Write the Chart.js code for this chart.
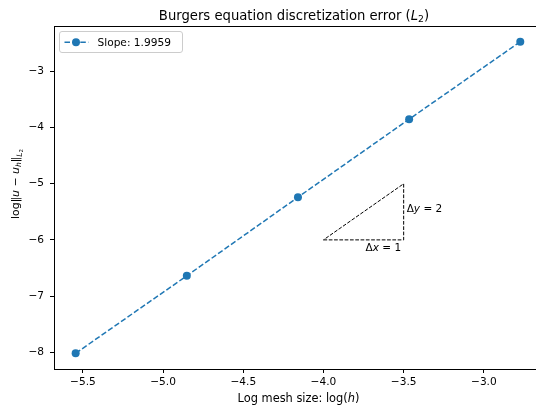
<!DOCTYPE html>
<html>
<head>
<meta charset="utf-8">
<script src="https://cdn.jsdelivr.net/npm/chart.js@4"></script>
<style>
  html, body { margin: 0; padding: 0; background: #fff; }
  #wrap { width: 536px; height: 409px; }
</style>
</head>
<body>
<div id="wrap"><canvas id="errChart" width="536" height="409"></canvas></div>
<script>
// data
const logH = [-5.545, -4.852, -4.159, -3.466, -2.773];
const logErr = [-8.02, -6.64, -5.24, -3.85, -2.47];
const slopeLabel = 'Slope: 1.9959';
const xTicks = [-5.5, -5.0, -4.5, -4.0, -3.5, -3.0];
const yTicks = [-8, -7, -6, -5, -4, -3];
// reference slope triangle
const triX = [-4.0, -3.5, -3.5, -4.0];
const triY = [-6.0, -6.0, -5.0, -6.0];

const FONT = "'DejaVu Sans', sans-serif";
const BLUE = '#1f77b4';
const minus = s => String(s).replace('-', '\u2212');

// draws a run of text pieces, some italic / subscript
function richText(ctx, parts, x, y, size, align) {
  const measure = p => {
    ctx.font = (p.it ? 'italic ' : '') + (size * (p.sc || 1)) + 'px ' + FONT;
    return ctx.measureText(p.t).width;
  };
  let total = 0;
  parts.forEach(p => total += measure(p));
  let cx = align === 'center' ? x - total / 2 : x;
  ctx.textBaseline = 'alphabetic';
  ctx.textAlign = 'left';
  parts.forEach(p => {
    const w = measure(p);
    ctx.fillText(p.t, cx, y + (p.dy || 0));
    cx += w;
  });
}

const extras = {
  id: 'extras',
  afterDatasetsDraw(chart) {
    const { ctx, chartArea: a, scales: { x, y } } = chart;
    ctx.save();
    ctx.fillStyle = '#000';
    // top spine
    ctx.strokeStyle = '#000';
    ctx.lineWidth = 1;
    ctx.beginPath();
    ctx.moveTo(a.left, a.top + 0.5);
    ctx.lineTo(a.right, a.top + 0.5);
    ctx.stroke();

    // triangle labels
    richText(ctx, [{ t: '\u0394' }, { t: 'y', it: 1 }, { t: ' = 2' }],
      x.getPixelForValue(triX[1]) + 3, y.getPixelForValue(-5.5) + 0.5, 10.5, 'left');
    richText(ctx, [{ t: '\u0394' }, { t: 'x', it: 1 }, { t: ' = 1' }],
      x.getPixelForValue(-3.75) + 2, y.getPixelForValue(triY[0]) + 11, 10.5, 'left');

    // legend box
    const bx = 59.5, by = 31.5, bw = 123, bh = 21;
    ctx.fillStyle = 'rgba(255,255,255,0.8)';
    ctx.strokeStyle = '#cccccc';
    ctx.beginPath();
    ctx.roundRect(bx, by, bw, bh, 2.5);
    ctx.fill();
    ctx.stroke();
    ctx.strokeStyle = BLUE;
    ctx.lineWidth = 1.5;
    ctx.setLineDash([5.5, 2.4]);
    ctx.beginPath();
    ctx.moveTo(64.5, 42.3);
    ctx.lineTo(88.5, 42.3);
    ctx.stroke();
    ctx.setLineDash([]);
    ctx.fillStyle = BLUE;
    ctx.beginPath();
    ctx.arc(76, 42.3, 4, 0, Math.PI * 2);
    ctx.fill();
    ctx.fillStyle = '#000';
    ctx.font = '10.6px ' + FONT;
    ctx.textBaseline = 'alphabetic';
    ctx.fillText(chart.data.datasets[0].label, 97.5, 46.3);
    ctx.restore();
  },
  afterDraw(chart) {
    const { ctx } = chart;
    ctx.save();
    ctx.fillStyle = '#000';
    // title
    richText(ctx, [
      { t: 'Burgers equation discretization error (' },
      { t: 'L', it: 1 }, { t: '2', sc: 0.7, dy: 2 }, { t: ')' }
    ], 294, 20, 13.2, 'center');
    // x label
    richText(ctx, [{ t: 'Log mesh size: log(' }, { t: 'h', it: 1 }, { t: ')' }],
      298.5, 402, 11.4, 'center');
    // y label
    ctx.translate(19, 184);
    ctx.rotate(-Math.PI / 2);
    richText(ctx, [
      { t: 'log\u2016' }, { t: 'u', it: 1 }, { t: ' \u2212 ' }, { t: 'u', it: 1 },
      { t: 'h', it: 1, sc: 0.7, dy: 2 }, { t: '\u2016' },
      { t: 'L', it: 1, sc: 0.7, dy: 3 }, { t: '2', sc: 0.5, dy: 4 }
    ], 0, 0, 10.9, 'center');
    ctx.restore();
  }
};

const tickFont = { family: FONT, size: 10.6 };

new Chart(document.getElementById('errChart'), {
  type: 'scatter',
  data: {
    datasets: [{
      label: slopeLabel,
      data: logH.map((v, i) => ({ x: v, y: logErr[i] })),
      showLine: true,
      borderColor: BLUE,
      backgroundColor: BLUE,
      borderWidth: 1.5,
      borderDash: [5.5, 2.4],
      pointRadius: 4,
      pointBorderWidth: 0,
      pointBackgroundColor: BLUE
    }, {
      label: 'triangle',
      data: triX.map((v, i) => ({ x: v, y: triY[i] })),
      showLine: true,
      borderColor: '#000',
      borderWidth: 1,
      borderDash: [3.7, 1.6],
      pointRadius: 0
    }]
  },
  options: {
    responsive: false,
    animation: false,
    events: [],
    layout: { autoPadding: false, padding: { top: 26, right: 0, left: 0, bottom: 0 } },
    plugins: {
      legend: { display: false },
      title: { display: false },
      tooltip: { enabled: false }
    },
    scales: {
      x: {
        type: 'linear',
        min: -5.68,
        max: -2.675,
        afterBuildTicks: s => { s.ticks = xTicks.map(v => ({ value: v })); },
        afterFit: s => { s.height = 40; s.paddingLeft = 0; s.paddingRight = 0; },
        ticks: {
          callback: v => minus(v.toFixed(1)),
          font: tickFont, color: '#000', padding: 3,
          maxRotation: 0, autoSkip: false
        },
        grid: { drawOnChartArea: false, tickLength: 4, color: '#000', tickColor: '#000' },
        border: { color: '#000', width: 1 }
      },
      y: {
        type: 'linear',
        min: -8.30,
        max: -2.19,
        afterBuildTicks: s => { s.ticks = yTicks.map(v => ({ value: v })); },
        afterFit: s => { s.width = 54; s.paddingTop = 0; s.paddingBottom = 0; },
        ticks: {
          callback: v => minus(v),
          font: tickFont, color: '#000', padding: 6, autoSkip: false
        },
        grid: { drawOnChartArea: false, tickLength: 4, color: '#000', tickColor: '#000' },
        border: { color: '#000', width: 1 }
      }
    }
  },
  plugins: [extras]
});
</script>
</body>
</html>
